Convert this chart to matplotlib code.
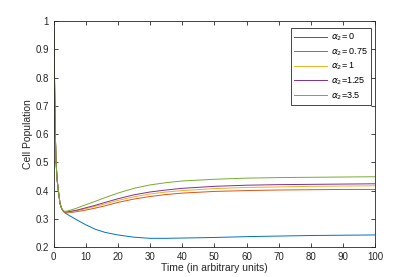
import numpy as np
import matplotlib
matplotlib.use('Agg')
import matplotlib.pyplot as plt

plt.rcParams['font.family'] = ['Liberation Sans', 'DejaVu Sans']

# time points (arbitrary units)
t = [0, 0.1, 0.2, 0.3, 0.5, 0.8, 1.1, 1.5, 2, 2.5, 3,
     3.5, 4, 5, 7, 10, 13, 16, 20, 25, 30, 35, 40, 50, 60, 70, 80, 90, 100]

# common fast drop for t <= 3
drop = [1.0, 0.93, 0.87, 0.80, 0.62, 0.50, 0.44, 0.40, 0.355, 0.337, 0.328]

# tails for t >= 3.5
tail_0 = [0.322, 0.318, 0.311, 0.298, 0.279, 0.263, 0.252, 0.243, 0.235, 0.231,
          0.231, 0.232, 0.234, 0.237, 0.239, 0.241, 0.242, 0.243]
tail_075 = [0.321, 0.321, 0.322, 0.325, 0.331, 0.338, 0.346, 0.358, 0.370, 0.379,
            0.386, 0.391, 0.397, 0.400, 0.402, 0.403, 0.404, 0.404]
tail_1 = [0.323, 0.323, 0.324, 0.328, 0.336, 0.344, 0.353, 0.365, 0.378, 0.388,
          0.395, 0.400, 0.407, 0.411, 0.413, 0.415, 0.416, 0.417]
tail_125 = [0.324, 0.324, 0.326, 0.330, 0.339, 0.348, 0.358, 0.371, 0.385, 0.395,
            0.402, 0.408, 0.415, 0.419, 0.421, 0.422, 0.423, 0.424]
tail_35 = [0.327, 0.327, 0.330, 0.337, 0.350, 0.362, 0.375, 0.391, 0.408, 0.420,
           0.428, 0.434, 0.440, 0.444, 0.446, 0.447, 0.448, 0.449]

labels = [r'$\alpha_2$= 0', r'$\alpha_2$= 0.75', r'$\alpha_2$= 1',
          r'$\alpha_2$=1.25', r'$\alpha_2$=3.5']
tails = [tail_0, tail_075, tail_1, tail_125, tail_35]
colors = ['#0072BD', '#D95319', '#EDB120', '#7E2F8E', '#77AC30']

fig = plt.figure(figsize=(4.15, 2.77), dpi=100)
ax = fig.add_axes([0.129, 0.108, 0.775, 0.816])

for lab, tail, c in zip(labels, tails, colors):
    ax.plot(t, drop + tail, color=c, lw=0.7, label=lab)

ax.set_xlim(0, 100)
ax.set_ylim(0.2, 1)
ax.set_xticks(np.arange(0, 101, 10))
ax.set_yticks(np.arange(0.2, 1.01, 0.1))
ax.set_yticklabels(['0.2', '0.3', '0.4', '0.5', '0.6', '0.7', '0.8', '0.9', '1'])

dark = '#262626'
for s in ax.spines.values():
    s.set_color(dark)
    s.set_linewidth(0.6)
ax.tick_params(direction='in', top=True, right=True, length=3, width=0.6,
               colors=dark, labelsize=7)
ax.set_xlabel('Time (in arbitrary units)', fontsize=7.5, color=dark, labelpad=1)
ax.set_ylabel('Cell Population', fontsize=7.5, color=dark, labelpad=1.5)

leg = ax.legend(loc='upper right', bbox_to_anchor=(0.988, 0.969), borderaxespad=0,
                fontsize=6.5, fancybox=False, framealpha=1, handlelength=3.6,
                labelspacing=0.35, borderpad=0.4, handletextpad=0.4)
leg.get_frame().set_edgecolor(dark)
leg.get_frame().set_linewidth(0.6)

fig.savefig('out.png', dpi=100)
